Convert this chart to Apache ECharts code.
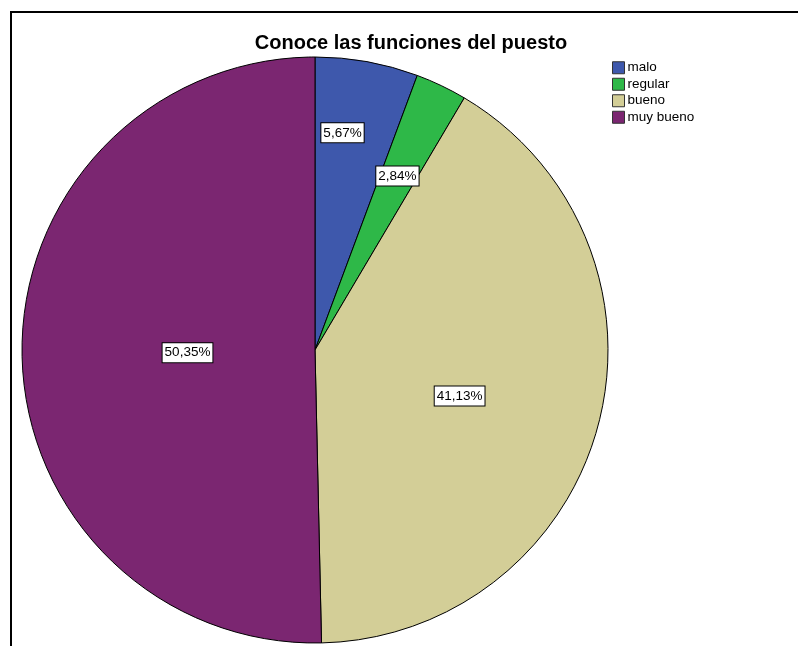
<!DOCTYPE html>
<html><head><meta charset="utf-8">
<script src="https://cdn.jsdelivr.net/npm/echarts@6/dist/echarts.min.js"></script>
<style>html,body{margin:0;padding:0;background:#fff}#c{width:798px;height:646px}</style>
</head><body><div id="c"></div>
<script>
const categories = ['malo', 'regular', 'bueno', 'muy bueno'];
const counts = [8, 4, 58, 71];
const percents = ['5,67%', '2,84%', '41,13%', '50,35%'];
const colors = ['#3E58AC', '#2EB848', '#D3CE97', '#7B2671'];
const labelOffsets = [[1, -70], [18, -39], [0, 8], [22, 1]];

const chart = echarts.init(document.getElementById('c'));
chart.setOption({
  animation: false,
  title: {
    text: 'Conoce las funciones del puesto',
    left: 411, top: 33, textAlign: 'center', padding: 0,
    textStyle: { fontFamily: 'Liberation Sans, Arial', fontSize: 20, fontWeight: 'bold', color: '#000' }
  },
  legend: {
    orient: 'vertical', left: 612, top: 60, padding: 0,
    itemWidth: 12, itemHeight: 12, itemGap: 1,
    icon: 'rect',
    textStyle: { fontFamily: 'Liberation Sans, Arial', fontSize: 13.5, lineHeight: 15.5, color: '#000', padding: [0, 0, 0, -2] },
    data: categories,
    itemStyle: { borderColor: '#333', borderWidth: 1 }
  },
  graphic: [{
    type: 'rect', shape: { x: 11, y: 12, width: 900, height: 800 },
    style: { fill: 'none', stroke: '#000', lineWidth: 2 }, silent: true
  }],
  series: [{
    type: 'pie',
    center: [315, 350], radius: 293,
    startAngle: 90, clockwise: true,
    avoidLabelOverlap: false,
    itemStyle: { borderColor: '#000', borderWidth: 1 },
    label: {
      show: true, position: 'inside',
      fontFamily: 'Liberation Sans, Arial', fontSize: 13.5, color: '#000',
      backgroundColor: '#fff', borderColor: '#000', borderWidth: 1,
      padding: [3, 2, 2, 2],
      formatter: p => percents[p.dataIndex]
    },
    labelLine: { show: false },
    emphasis: { disabled: true },
    data: categories.map((c, i) => ({
      name: c, value: counts[i],
      itemStyle: { color: colors[i] },
      label: { offset: labelOffsets[i] }
    }))
  }]
});
</script></body></html>
